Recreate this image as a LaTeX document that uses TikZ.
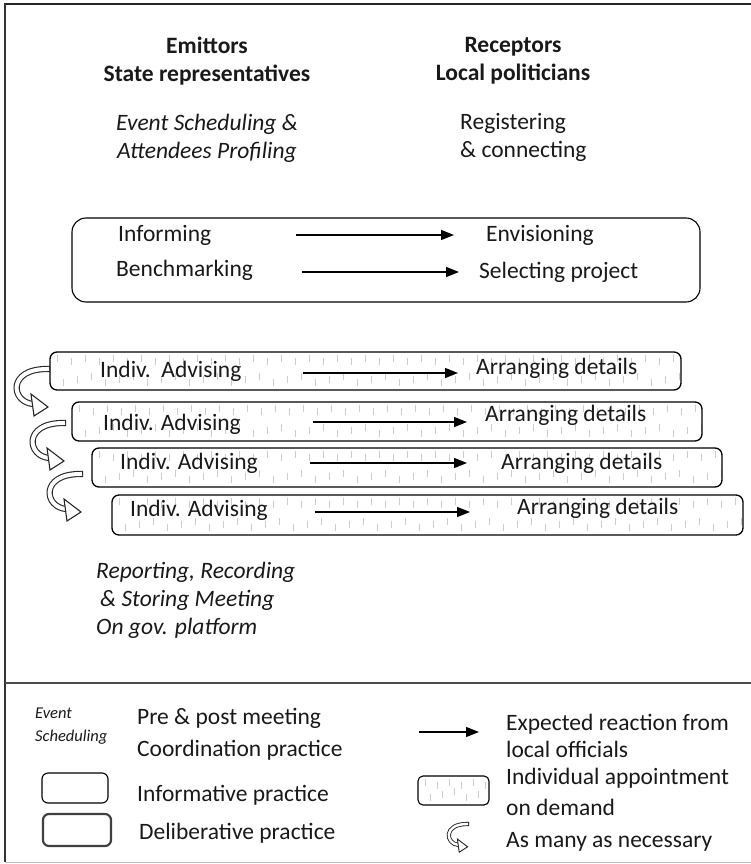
\documentclass[tikz,border=0pt]{standalone}
\usepackage{fontspec}
\setmainfont{Carlito}
\usetikzlibrary{arrows.meta,fit}

\tikzset{
  txt/.style={inner sep=0pt, text=black!90, font=\fontsize{23.5}{28}\selectfont},
  head/.style={txt, align=center, font=\bfseries\fontsize{23.5}{28}\selectfont},
  ital/.style={txt, font=\itshape\fontsize{23.5}{28}\selectfont},
  flow/.style={line width=1.3pt, -{Triangle[length=13pt,width=10pt]}},
  infobox/.style={draw, line width=1.1pt, rounded corners=14pt, inner sep=0pt},
  apptbox/.style={draw, line width=1.3pt, rounded corners=7pt, inner sep=0pt},
  tick/.style={gray!40, line width=0.9pt},
  loopband/.style={draw=black!85, double=white, double distance=4pt, line width=1.1pt, line cap=rect},
  loophead/.style={draw=black!85, fill=white, line width=1.1pt},
  loopback/.pic={
    \draw[loopband] (0,0) .. controls (-40,0) and (-36,33) .. (-14,35);
    \filldraw[loophead] (-16,25) -- (1,38) -- (-13,47) -- cycle;
  }
}

\begin{document}
\begin{tikzpicture}[x=1pt,y=-1pt]
\useasboundingbox (0,0) rectangle (751,864);

% frame
\draw[line width=2.5pt, black!85] (5,4) -- (751,4);
\draw[line width=1.8pt, black!80] (5,3) -- (5,862);
\draw[line width=2.5pt, black!70] (5,683) -- (751,683);
\draw[line width=1pt, black!25] (5,862) -- (751,862);

% headers
\node[head] (emit) at (207,61) {Emittors\\State representatives};
\node[head] (recp) at (513,61) {Receptors\\Local politicians};
\node[ital, align=center] (sched) at (207,138) {Event Scheduling \&\\Attendees Profiling};
\node[txt, align=left, anchor=west] (regi) at (460,137) {Registering\\\& connecting};

% informative practice
\node[infobox, minimum width=628pt, minimum height=84pt] (info) at (386,260) {};
\node[txt, anchor=west] (infm) at (118,235) {Informing};
\node[txt, anchor=west] (bench) at (116,270) {Benchmarking};
\node[txt, anchor=west] (envi) at (486,235) {Envisioning};
\node[txt, anchor=west] (selp) at (479,272) {Selecting project};
\coordinate (i1) at (296,235);
\coordinate (i2) at (454,235);
\coordinate (b1) at (302,272);
\coordinate (b2) at (459,272);
\draw[flow] (i1) -- (i2);
\draw[flow] (b1) -- (b2);

% individual appointments
\foreach \n/\xa/\ya/\xb/\yb in {1/50/352/681/390, 2/72/402/702/441, 3/92/448/722/487, 4/112/495/743/535}{
  \begin{scope}
    \clip[rounded corners=7pt] (\xa,\ya) rectangle (\xb,\yb);
    \foreach \k in {0,...,45}{
      \draw[tick] ({\xa+7+14*\k},{\ya+3+3*mod(\k,2)}) -- ++(0,7);
      \draw[tick] ({\xa+13+14*\k},{\yb-11-3*mod(\k,3)}) -- ++(0,7);
    }
  \end{scope}
  \node[apptbox, fit={(\xa,\ya) (\xb,\yb)}] (appt\n) {};
}

\node[txt, anchor=west] (adv1) at (100,371) {Indiv.\ \ Advising};
\node[txt, anchor=west] (adv2) at (103,424) {Indiv. Advising};
\node[txt, anchor=west] (adv3) at (120,463) {Indiv. Advising};
\node[txt, anchor=west] (adv4) at (130,510) {Indiv. Advising};
\node[txt, anchor=west] (arr1) at (476,368) {Arranging details};
\node[txt, anchor=west] (arr2) at (485,415) {Arranging details};
\node[txt, anchor=west] (arr3) at (501,463) {Arranging details};
\node[txt, anchor=west] (arr4) at (517,508) {Arranging details};
\coordinate (s1) at (303,373);
\coordinate (e1) at (458,373);
\coordinate (s2) at (313,422);
\coordinate (e2) at (467,422);
\coordinate (s3) at (310,463);
\coordinate (e3) at (467,463);
\coordinate (s4) at (315,512);
\coordinate (e4) at (470,512);
\draw[flow] (s1) -- (e1);
\draw[flow] (s2) -- (e2);
\draw[flow] (s3) -- (e3);
\draw[flow] (s4) -- (e4);

% as many as necessary
\pic at (47,369) {loopback};
\pic at (63,423) {loopback};
\pic at (80,474) {loopback};

\node[ital, align=left, anchor=west] (rep) at (96,600) {Reporting, Recording\\\hspace{4pt}\& Storing Meeting\\On gov. platform};

% legend
\node[txt, align=left, anchor=west, font=\itshape\fontsize{16.5}{23}\selectfont] (levt) at (35,726) {Event\\Scheduling};
\node[txt, align=left, anchor=west, font=\fontsize{23.5}{32}\selectfont] (lpre) at (137,734) {Pre \& post meeting\\Coordination practice};
\node[draw, line width=1.1pt, rounded corners=6pt, minimum width=66pt, minimum height=30pt, inner sep=0pt] (linf) at (75,788) {};
\node[txt, anchor=west] (linft) at (137,795) {Informative practice};
\node[draw=black!75, line width=2.2pt, rounded corners=6pt, minimum width=68pt, minimum height=32pt, inner sep=0pt] (ldel) at (77,830) {};
\node[txt, anchor=west] (ldelt) at (139,833) {Deliberative practice};

\coordinate (la1) at (419,732);
\coordinate (la2) at (479,732);
\draw[flow] (la1) -- (la2);
\node[txt, align=left, anchor=west, font=\fontsize{23.5}{27}\selectfont] (lexp) at (506,736) {Expected reaction from\\local officials};
\begin{scope}
  \clip[rounded corners=5pt] (418,776) rectangle (489,805);
  \foreach \k in {0,...,5}{
    \draw[tick] ({418+7+12*\k},{776+3+3*mod(\k,2)}) -- ++(0,7);
    \draw[tick] ({418+12+12*\k},{805-11-3*mod(\k,3)}) -- ++(0,7);
  }
\end{scope}
\node[apptbox, rounded corners=5pt, line width=1.1pt, fit={(418,776) (489,805)}] (lapp) {};
\node[txt, align=left, anchor=west, font=\fontsize{23.5}{31}\selectfont] (lind) at (506,792) {Individual appointment\\on demand};
\begin{scope}[loopband/.append style={double distance=2.4pt, line width=0.9pt}, loophead/.append style={line width=0.9pt}]
  \pic[scale=0.6] at (467,824) {loopback};
\end{scope}
\node[txt, anchor=west] (lmany) at (506,842) {As many as necessary};
\end{tikzpicture}
\end{document}
